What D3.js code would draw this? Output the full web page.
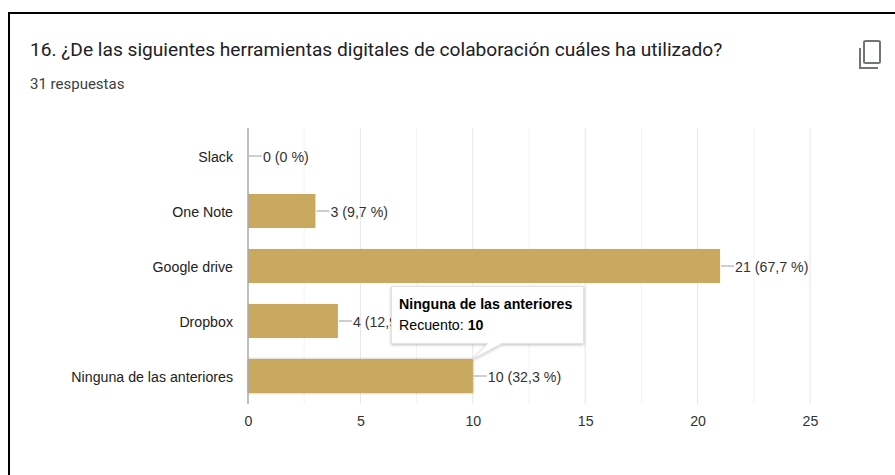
<!DOCTYPE html>
<html>
<head>
<meta charset="utf-8">
<script src="https://cdn.jsdelivr.net/npm/d3@7"></script>
<style>
  html, body { margin: 0; padding: 0; background: #fff; overflow: hidden; }
  text { font-family: "Liberation Sans", Arial, sans-serif; }
</style>
</head>
<body>
<div id="d3-container"></div>
<script>
/* data */
const categories = ["Slack", "One Note", "Google drive", "Dropbox", "Ninguna de las anteriores"];
const counts = [0, 3, 21, 4, 10];
const percents = ["0 %", "9,7 %", "67,7 %", "12,9 %", "32,3 %"];
const majorTicks = [0, 5, 10, 15, 20, 25];
const gridTicks = [2.5, 5, 7.5, 10, 12.5, 15, 17.5, 20, 22.5, 25];

const titleText = "16. ¿De las siguientes herramientas digitales de colaboración cuáles ha utilizado?";
const subtitleText = "31 respuestas";
const tipTitle = "Ninguna de las anteriores";
const tipLabel = "Recuento:";
const tipIndex = 4;

const width = 895, height = 475;
const plot = { left: 248, right: 810, top: 128, bottom: 404 };
const labelSize = 15.5, squeeze = 0.915;

const svg = d3.select("#d3-container")
  .append("svg")
  .attr("width", width)
  .attr("height", height)
  .style("display", "block");

const x = d3.scaleLinear().domain([0, 25]).range([plot.left, plot.right]);
const y = d3.scaleBand().domain(categories)
  .range([plot.top + 0.5, plot.bottom - 0.5])
  .paddingInner(0.38).paddingOuter(0.19);

// the chart labels are tall and narrow in the picture, so squeeze them sideways
function narrow(sel) {
  sel.each(function () {
    const len = this.getComputedTextLength();
    d3.select(this)
      .attr("textLength", len * squeeze)
      .attr("lengthAdjust", "spacingAndGlyphs");
  });
}

// screenshot frame
svg.append("path")
  .attr("d", `M9,${height} V13 H${width}`)
  .attr("fill", "none")
  .attr("stroke", "#000")
  .attr("stroke-width", 2);

// heading
svg.append("text")
  .attr("x", 30).attr("y", 56)
  .style("font-family", "Roboto, sans-serif")
  .attr("font-size", 19.15)
  .attr("fill", "#202124")
  .text(titleText);

svg.append("text")
  .attr("x", 30).attr("y", 89)
  .style("font-family", "Roboto, sans-serif")
  .attr("font-size", 15)
  .attr("fill", "#3c4043")
  .text(subtitleText);

// copy icon
const icon = svg.append("g")
  .attr("fill", "none")
  .attr("stroke", "#70757a")
  .attr("stroke-width", 2);
icon.append("rect").attr("x", 864).attr("y", 41).attr("width", 16).attr("height", 22).attr("rx", 1.5);
icon.append("path").attr("d", "M860,48 V68 H878");

// gridlines
svg.append("g").selectAll("line")
  .data(gridTicks)
  .join("line")
  .attr("x1", d => x(d)).attr("x2", d => x(d))
  .attr("y1", plot.top).attr("y2", plot.bottom)
  .attr("stroke", d => d % 5 === 0 ? "#e6e6e6" : "#f3f3f3");

// soft shadow for the hovered bar
const defs = svg.append("defs");
const barShadow = defs.append("filter").attr("id", "bar-shadow")
  .attr("x", "-5%").attr("y", "-20%").attr("width", "110%").attr("height", "140%");
barShadow.append("feDropShadow")
  .attr("dx", 0).attr("dy", 0).attr("stdDeviation", 1.2)
  .attr("flood-color", "#000").attr("flood-opacity", 0.4);

// bars
svg.append("g").selectAll("rect")
  .data(categories)
  .join("rect")
  .attr("x", x(0))
  .attr("y", d => y(d))
  .attr("width", (d, i) => x(counts[i]) - x(0))
  .attr("height", y.bandwidth())
  .attr("fill", "#c9a85f")
  .attr("filter", (d, i) => i === tipIndex ? "url(#bar-shadow)" : null);

// base line
svg.append("line")
  .attr("x1", x(0)).attr("x2", x(0))
  .attr("y1", plot.top).attr("y2", plot.bottom)
  .attr("stroke", "#a8a8a8")
  .attr("stroke-width", 1.5);

// category labels
svg.append("g").selectAll("text")
  .data(categories)
  .join("text")
  .attr("x", 233)
  .attr("y", d => y(d) + y.bandwidth() / 2 + 5.5)
  .attr("text-anchor", "end")
  .attr("font-size", labelSize)
  .attr("fill", "#222")
  .text(d => d)
  .call(narrow);

// leader lines and value labels
svg.append("g").selectAll("line")
  .data(categories)
  .join("line")
  .attr("x1", (d, i) => x(counts[i]) + 1)
  .attr("x2", (d, i) => x(counts[i]) + 14)
  .attr("y1", d => y(d) + y.bandwidth() / 2)
  .attr("y2", d => y(d) + y.bandwidth() / 2)
  .attr("stroke", "#9e9e9e");

svg.append("g").selectAll("text")
  .data(categories)
  .join("text")
  .attr("x", (d, i) => x(counts[i]) + 15)
  .attr("y", d => y(d) + y.bandwidth() / 2 + 5.5)
  .attr("font-size", labelSize)
  .attr("fill", "#333")
  .text((d, i) => `${counts[i]} (${percents[i]})`)
  .call(narrow);

// x axis labels
const axis = svg.append("g")
  .attr("transform", `translate(0,${plot.bottom})`)
  .call(d3.axisBottom(x).tickValues(majorTicks).tickSize(0).tickPadding(11));
axis.select(".domain").remove();
axis.selectAll("text")
  .attr("font-size", labelSize)
  .attr("fill", "#333")
  .style("font-family", '"Liberation Sans", Arial, sans-serif')
  .call(narrow);

// tooltip
const tipShadow = defs.append("filter").attr("id", "tip-shadow")
  .attr("x", "-10%").attr("y", "-10%").attr("width", "120%").attr("height", "130%");
tipShadow.append("feDropShadow")
  .attr("dx", 0).attr("dy", 1).attr("stdDeviation", 1.5)
  .attr("flood-color", "#000").attr("flood-opacity", 0.25);

const tipX = x(counts[tipIndex]);
const tipY = y(categories[tipIndex]);
const tip = svg.append("g");
tip.append("path")
  .attr("d", `M391.5,286.5 H583.5 V343.5 H${tipX + 29} L${tipX},${tipY} L${tipX + 15},343.5 H391.5 Z`)
  .attr("fill", "#fff")
  .attr("stroke", "#e2e2e2")
  .attr("filter", "url(#tip-shadow)");
tip.append("text")
  .attr("x", 399).attr("y", 309)
  .attr("font-size", labelSize)
  .attr("font-weight", "bold")
  .attr("fill", "#000")
  .text(tipTitle)
  .call(narrow);
const tipLine = tip.append("text")
  .attr("x", 399).attr("y", 330)
  .attr("font-size", labelSize)
  .attr("fill", "#000")
  .text(tipLabel)
  .call(narrow);
tip.append("text")
  .attr("x", 399 + tipLine.node().getComputedTextLength() + 4)
  .attr("y", 330)
  .attr("font-size", labelSize)
  .attr("font-weight", "bold")
  .attr("fill", "#000")
  .text(counts[tipIndex])
  .call(narrow);
</script>
</body>
</html>
